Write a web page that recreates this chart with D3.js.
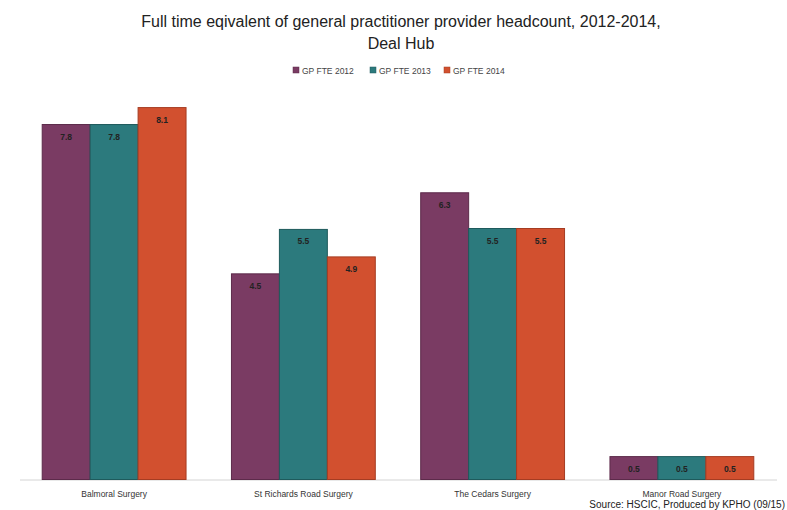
<!DOCTYPE html>
<html>
<head>
<meta charset="utf-8">
<script src="https://cdn.jsdelivr.net/npm/d3@7"></script>
<style>
  body { margin: 0; background: #fff; }
  svg { display: block; font-family: "Liberation Sans", Arial, sans-serif; }
</style>
</head>
<body>
<svg id="chart" width="787" height="510"></svg>
<script>
var width = 787,
    height = 510;

// Data
var practices = ["Balmoral Surgery", "St Richards Road Surgery", "The Cedars Surgery", "Manor Road Surgery"];
var series = ["GP FTE 2012", "GP FTE 2013", "GP FTE 2014"];
var fte2012 = [7.75, 4.49, 6.26, 0.5];
var fte2013 = [7.75, 5.46, 5.48, 0.5];
var fte2014 = [8.12, 4.86, 5.48, 0.5];
var colors = ["#7a3b63", "#2c7a7d", "#d2502f"];
var strokes = ["#5c2a4a", "#1e5a5c", "#a53c22"];

var values = [fte2012, fte2013, fte2014];

var svg = d3.select("#chart");

// Title
svg.append("text")
    .attr("x", 401).attr("y", 27)
    .attr("text-anchor", "middle")
    .attr("font-size", 16)
    .attr("fill", "#222")
    .text("Full time eqivalent of general practitioner provider headcount, 2012-2014,");
svg.append("text")
    .attr("x", 401).attr("y", 49)
    .attr("text-anchor", "middle")
    .attr("font-size", 16)
    .attr("fill", "#222")
    .text("Deal Hub");

// Legend
var legendX = [293, 370, 444];
var legend = svg.append("g").selectAll("g")
    .data(series)
    .join("g")
    .attr("transform", function (d, i) { return "translate(" + legendX[i] + ",67)"; });
legend.append("rect")
    .attr("width", 6).attr("height", 6)
    .attr("fill", function (d, i) { return colors[i]; })
    .attr("stroke", function (d, i) { return strokes[i]; })
    .attr("stroke-width", 0.5);
legend.append("text")
    .attr("x", 9).attr("y", 6.5)
    .attr("font-size", 8.5)
    .attr("fill", "#444")
    .text(function (d) { return d; });

// Scales
var x0 = d3.scaleBand()
    .domain(practices)
    .range([19.5, 776.5])
    .paddingInner(0.24)
    .paddingOuter(0.12);
var x1 = d3.scaleBand()
    .domain(series)
    .range([0, x0.bandwidth()]);
var y = d3.scaleLinear()
    .domain([0, 8.1])
    .range([479.5, 108.5]);

// Baseline
svg.append("line")
    .attr("x1", 20).attr("x2", 777)
    .attr("y1", y(0) + 0.5).attr("y2", y(0) + 0.5)
    .attr("stroke", "#d4d4d4")
    .attr("stroke-width", 1);

// Bars
var groups = svg.append("g").selectAll("g")
    .data(practices)
    .join("g")
    .attr("transform", function (d) { return "translate(" + x0(d) + ",0)"; });

var cells = groups.selectAll("g")
    .data(function (d, pi) {
        return series.map(function (s, si) { return { s: s, si: si, v: values[si][pi] }; });
    })
    .join("g");

cells.append("rect")
    .attr("x", function (d) { return x1(d.s); })
    .attr("y", function (d) { return y(d.v); })
    .attr("width", x1.bandwidth())
    .attr("height", function (d) { return y(0) - y(d.v); })
    .attr("fill", function (d) { return colors[d.si]; })
    .attr("stroke", function (d) { return strokes[d.si]; })
    .attr("stroke-width", 1);

cells.append("text")
    .attr("x", function (d) { return x1(d.s) + x1.bandwidth() / 2; })
    .attr("y", function (d) { return y(d.v) + 15; })
    .attr("text-anchor", "middle")
    .attr("font-size", 8.5)
    .attr("font-weight", "bold")
    .attr("fill", "#222")
    .text(function (d) { return d.v.toFixed(1); });

// Category labels
svg.append("g").selectAll("text")
    .data(practices)
    .join("text")
    .attr("x", function (d) { return x0(d) + x0.bandwidth() / 2; })
    .attr("y", 497)
    .attr("text-anchor", "middle")
    .attr("font-size", 8.5)
    .attr("fill", "#333")
    .text(function (d) { return d; });

// Source
svg.append("text")
    .attr("x", 785).attr("y", 508)
    .attr("text-anchor", "end")
    .attr("font-size", 10)
    .attr("fill", "#222")
    .text("Source: HSCIC, Produced by KPHO (09/15)");
</script>
</body>
</html>
